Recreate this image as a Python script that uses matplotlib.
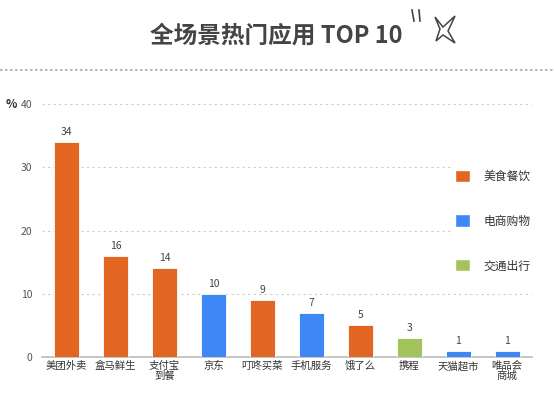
import matplotlib
matplotlib.use("Agg")
import matplotlib.pyplot as plt
from matplotlib.patches import Patch, Polygon
from matplotlib.lines import Line2D

plt.rcParams['font.family'] = ['Noto Sans CJK SC', 'DejaVu Sans']

categories = ["美团外卖", "盒马鲜生", "支付宝\n到餐", "京东", "叮咚买菜", "手机服务", "饿了么", "携程", "天猫超市", "唯品会\n商城"]
values = [34, 16, 14, 10, 9, 7, 5, 3, 1, 1]
groups = ["美食餐饮", "美食餐饮", "美食餐饮", "电商购物", "美食餐饮", "电商购物", "美食餐饮", "交通出行", "电商购物", "电商购物"]
group_names = ["美食餐饮", "电商购物", "交通出行"]
group_colors = {"美食餐饮": "#E26521", "电商购物": "#3E87F6", "交通出行": "#A3C45C"}
title = "全场景热门应用 TOP 10"

fig = plt.figure(figsize=(5.54, 3.97), dpi=100)
fig.patch.set_facecolor("white")
ax = fig.add_axes([0.0758, 0.1008, 0.884, 0.637])

x = list(range(len(categories)))
colors = [group_colors[g] for g in groups]
bars = ax.bar(x, values, width=0.52, color=colors, edgecolor="white", linewidth=0.6, zorder=3)
for xi, v in zip(x, values):
    ax.text(xi, v + 0.8, str(v), ha="center", va="bottom", fontsize=7.5, color="#444444")

ax.set_xlim(-0.5, len(categories) - 0.5)
ax.set_ylim(0, 40)
ax.set_yticks([0, 10, 20, 30, 40])
ax.set_xticks(x)
ax.set_xticklabels(categories, fontsize=7.5, color="#333333", linespacing=0.95)
ax.tick_params(axis="x", length=0, pad=3)
ax.tick_params(axis="y", length=0, pad=7, labelsize=7.5, labelcolor="#555555")
ax.grid(axis="y", linestyle=(0, (2, 3)), color="#cccccc", linewidth=0.8, zorder=0)
for s in ["top", "right", "left"]:
    ax.spines[s].set_visible(False)
ax.spines["bottom"].set_color("#bbbbbb")
ax.spines["bottom"].set_linewidth(1.2)

fig.text(6 / 554, 1 - 104 / 397, "%", fontsize=8.5, fontweight="bold", color="#333333", ha="left", va="center")

handles = [Patch(facecolor=group_colors[g], edgecolor="white", label=g) for g in group_names]
leg = fig.legend(handles=handles, loc="center left", bbox_to_anchor=(446 / 554, 1 - 221 / 397),
                 frameon=True, facecolor="white", edgecolor="white", framealpha=1,
                 fontsize=8.5, labelspacing=2.7, handlelength=1.2, handleheight=1.2, handletextpad=1.2,
                 borderpad=0.3)
for t in leg.get_texts():
    t.set_color("#333333")

# Title
fig.text(276 / 554, 1 - 36 / 397, title, fontsize=17, fontweight="bold", color="#444444", ha="center", va="center")
# decoration marks
fig.add_artist(Line2D([412 / 554, 414 / 554], [1 - 10 / 397, 1 - 21 / 397], color="#444444", lw=1.2))
fig.add_artist(Line2D([419 / 554, 420 / 554], [1 - 10 / 397, 1 - 21 / 397], color="#444444", lw=1.2))
cx, cy = 445, 30
pts = [(cx - 10, cy - 13), (cx - 2, cy - 3), (cx + 10, cy - 14), (cx + 3, cy + 1), (cx + 10, cy + 13), (cx - 2, cy + 5), (cx - 9, cy + 11), (cx - 5, cy - 1)]
fig.add_artist(Polygon([(px / 554, 1 - py / 397) for px, py in pts], closed=True, fill=False,
                       edgecolor="#444444", lw=1.1, transform=fig.transFigure))
# dashed separator
fig.add_artist(Line2D([0, 1], [1 - 70 / 397, 1 - 70 / 397], color="#aaaaaa", lw=1.2, linestyle=(0, (1.5, 1.5))))

fig.savefig("out.png", dpi=100)
